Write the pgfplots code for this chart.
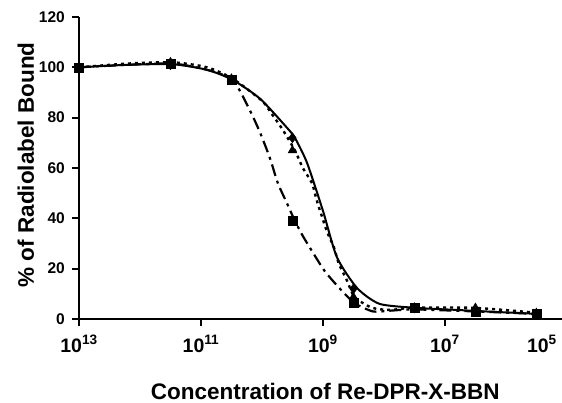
\documentclass[border=0pt]{standalone}
\usepackage{fontspec}
\setmainfont{Liberation Sans}
\usepackage{pgfplots}
\pgfplotsset{compat=1.18}
\newcommand{\sqpt}[1]{\textbf{10}\textsuperscript{\textbf{#1}}}
\begin{document}
\begin{tikzpicture}[x=1pt,y=1pt]
\begin{axis}[
  at={(0,0)}, anchor=south west,
  scale only axis, width=483pt, height=302pt,
  xmin=-13, xmax=-5.08, ymin=0, ymax=120,
  axis lines*=left,
  axis line style={line width=2.6pt, -},
  tick style={line width=2pt, black},
  tick align=outside, major tick length=7pt,
  xtick={-13,-11,-9,-7},
  xticklabels={\sqpt{13},\sqpt{11},\sqpt{9},\sqpt{7}},
  xticklabel style={font=\fontsize{19.5}{20}\selectfont\bfseries, inner sep=0pt, anchor=north, yshift=-9pt},
  ytick={0,20,40,60,80,100,120},
  /pgf/number format/assume math mode=true,
  yticklabel style={font=\fontsize{15.5}{16}\selectfont\bfseries, inner sep=0pt, anchor=east, xshift=-7pt},
  xlabel={Concentration of Re-DPR-X-BBN},
  xlabel style={font=\fontsize{22.5}{23}\selectfont\bfseries, at={(axis description cs:0.51,-0.24)}, anchor=center},
  ylabel={\% of Radiolabel Bound},
  ylabel style={font=\fontsize{22.5}{23}\selectfont\bfseries, at={(axis description cs:-0.11,0.51)}, anchor=center},
  clip=false,
]
% fitted curves
\addplot[black, line width=2pt, smooth, tension=0.4] coordinates {
(-13,100) (-12.2,101) (-11.46,101.2) (-10.9,99) (-10.48,95) (-10.03,87.5) (-9.59,76) (-9.46,72) (-9.26,62) (-9.0,43) (-8.77,24.5) (-8.44,12.3) (-8.07,6) (-7.46,4.4) (-6.8,3.6) (-6.5,3.2) (-5.46,2)};
\addplot[black, line width=2.2pt, dash pattern=on 12pt off 5pt on 3pt off 5pt, smooth, tension=0.4] coordinates {
(-13,100) (-12.2,101) (-11.46,101.5) (-10.9,99) (-10.48,95) (-10.2,83) (-10.03,74) (-9.87,64) (-9.74,54) (-9.59,46) (-9.46,39) (-9.33,33) (-9.18,27) (-8.97,19) (-8.72,12) (-8.48,6.3) (-8.18,3) (-7.9,3.3) (-7.5,3.8) (-6.5,3) (-5.46,2)};
\addplot[black, line width=2.4pt, dash pattern=on 3pt off 4pt, smooth, tension=0.4] coordinates {
(-13,100) (-12.2,101.5) (-11.46,102) (-10.9,100) (-10.48,95.5) (-10,86.7) (-9.84,81.5) (-9.67,75.6) (-9.46,67) (-9.33,60) (-9.18,54) (-9.1,47) (-9.02,41) (-8.93,34.5) (-8.82,28.5) (-8.74,22) (-8.61,15.5) (-8.48,8.7) (-8.2,4.5) (-7.9,3.6) (-7.5,4.5) (-6.5,4.4) (-5.46,2.4)};
% data points
\addplot[only marks, mark=square*, mark size=4.5pt, black] coordinates {
(-13,100) (-11.5,101.5) (-10.5,95) (-9.5,39) (-8.5,6.3) (-7.5,4.4) (-6.5,3) (-5.5,2)};
\addplot[only marks, mark=triangle*, mark size=5pt, black] coordinates {
(-13,100) (-11.5,102) (-10.5,95.5) (-9.5,67) (-8.5,8.7) (-7.5,4.5) (-6.5,4.4) (-5.5,2.4)};
\addplot[only marks, mark=diamond*, mark size=5pt, black] coordinates {
(-13,100) (-11.5,101) (-10.5,95) (-9.5,72) (-8.5,12) (-7.5,4.4) (-6.5,3.2) (-5.5,2)};
\node[anchor=north east, inner sep=0pt, font=\fontsize{19.5}{20}\selectfont\bfseries] at (axis cs:-5.08,0) [xshift=-5pt, yshift=-16pt] {\sqpt{5}};
\end{axis}
\pgfresetboundingbox
\useasboundingbox (-79,-84) rectangle (483,319);
\end{tikzpicture}
\end{document}
